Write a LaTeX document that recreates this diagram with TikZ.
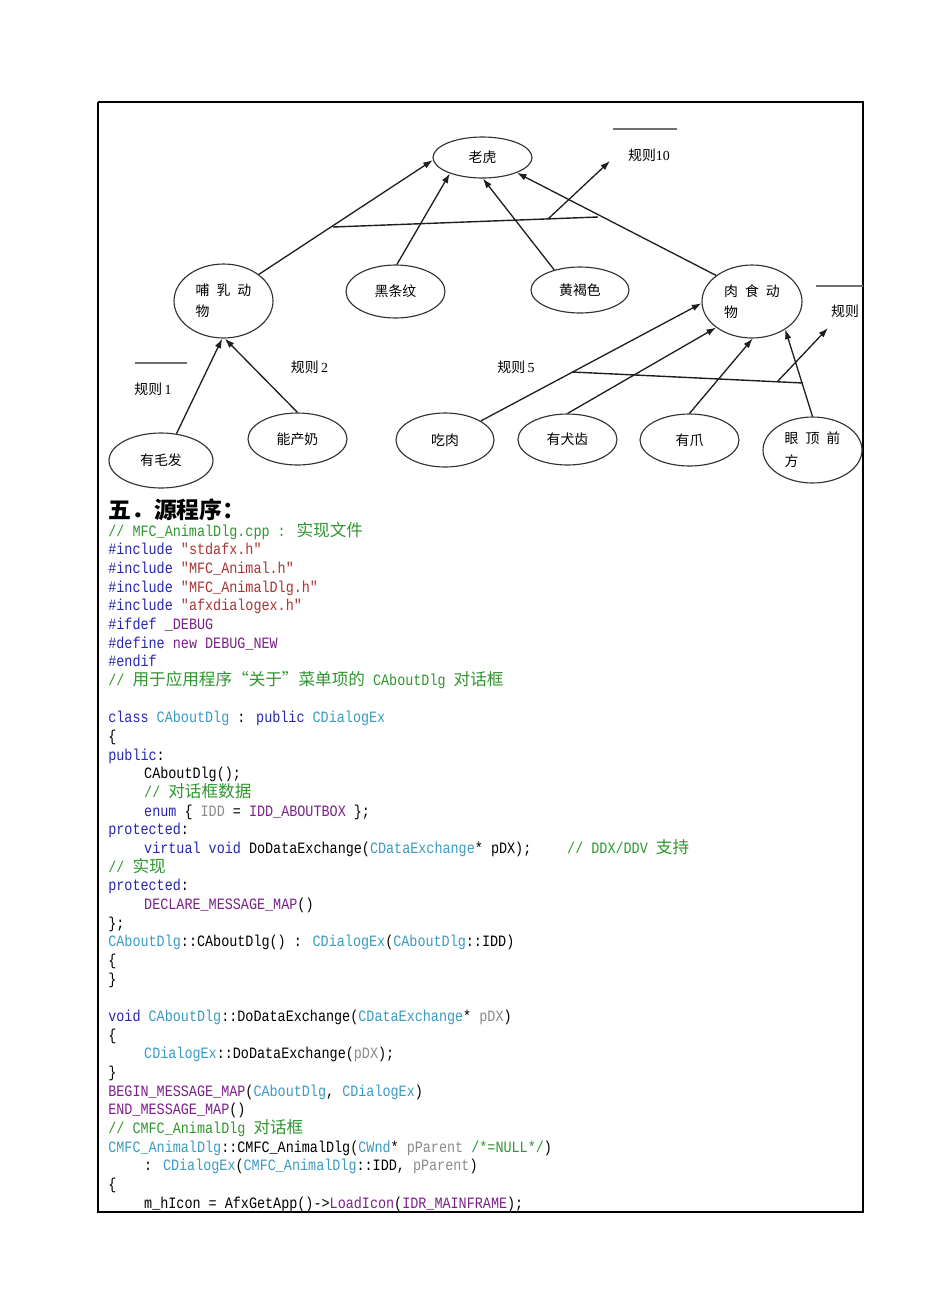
\documentclass[tikz,border=0pt]{standalone}
\usepackage{fontspec}
\usetikzlibrary{shapes.geometric,arrows.meta}
\setmainfont{Liberation Serif}
\newfontfamily\zhfont{Noto Sans CJK SC}
\newfontfamily\codezhfont[Scale=1.05]{Noto Sans CJK SC}
\newfontfamily\codefont[FakeStretch=0.85]{Liberation Mono}
\definecolor{edgeInk}{HTML}{1E1E1E}
\definecolor{ellipseInk}{HTML}{333333}
\definecolor{ruleInk}{HTML}{707070}
\definecolor{codeKeyword}{HTML}{2626B0}
\definecolor{codeType}{HTML}{3B9AC0}
\definecolor{codeString}{HTML}{A83434}
\definecolor{codeComment}{HTML}{2E962E}
\definecolor{codeMacro}{HTML}{7A2088}
\definecolor{codeParam}{HTML}{8A8A8A}
\tikzset{
  state/.style={ellipse, draw=ellipseInk, line width=0.65pt, inner sep=0pt,
    align=left, font=\zhfont\fontsize{7.9}{12}\selectfont},
  infer/.style={draw=edgeInk, line width=0.75pt, -{Latex[length=5.5pt,width=3.8pt]}},
  rulebar/.style={draw=edgeInk, line width=0.8pt},
  ruleover/.style={draw=ruleInk, line width=0.7pt},
  rulelabel/.style={inner sep=0pt, font=\zhfont\fontsize{7.9}{10}\selectfont},
  codeline/.style={anchor=base west, inner sep=0pt,
    font=\codefont\fontsize{9}{11}\selectfont}
}
\newcommand{\zh}[1]{{\codezhfont #1}}
\newcommand{\zgap}{\hspace{0.5em}}
\newcommand{\codeindent}{\hspace*{20.4pt}}
\newcommand{\ckw}[1]{\textcolor{codeKeyword}{#1}}
\newcommand{\cty}[1]{\textcolor{codeType}{#1}}
\newcommand{\cstr}[1]{\textcolor{codeString}{#1}}
\newcommand{\ccmt}[1]{\textcolor{codeComment}{#1}}
\newcommand{\cmac}[1]{\textcolor{codeMacro}{#1}}
\newcommand{\cpar}[1]{\textcolor{codeParam}{#1}}
\newcommand{\codeline}[2]{%
  \node[codeline] (line#1) at (108,{536+18.67*(#1-1)}) {#2};%
}

\begin{document}
\begin{tikzpicture}[x=0.02cm,y=-0.02cm]
\useasboundingbox (0,0) rectangle (950,1316);

% frame round the page block
\draw[line width=0.7pt] (98,102) -- (863,102) -- (863,493);
\draw[line width=1.4pt] (98,102) -- (98,1212) -- (863,1212) -- (863,493);

% inference net: facts and conclusions
\node[state, minimum width=1.98cm, minimum height=0.82cm] (tiger) at (482.5,157.5) {老虎};
\node[state, minimum width=1.98cm, minimum height=1.48cm] (mammal) at (223.5,301) {哺\zgap 乳\zgap 动\\物};
\node[state, minimum width=1.98cm, minimum height=1.06cm] (stripes) at (395.5,291.5) {黑条纹};
\node[state, minimum width=1.96cm, minimum height=0.92cm] (brown) at (580,290) {黄褐色};
\node[state, minimum width=2.00cm, minimum height=1.46cm] (carn) at (752,301.5) {肉\zgap 食\zgap 动\\物};
\node[state, minimum width=2.08cm, minimum height=1.10cm] (hair) at (161,460.5) {有毛发};
\node[state, minimum width=1.98cm, minimum height=1.04cm] (milk) at (297.5,439) {能产奶};
\node[state, minimum width=1.96cm, minimum height=1.08cm] (meat) at (445,440) {吃肉};
\node[state, minimum width=1.98cm, minimum height=1.02cm] (teeth) at (567.5,439.5) {有犬齿};
\node[state, minimum width=1.98cm, minimum height=1.04cm] (claw) at (689.5,440) {有爪};
\node[state, minimum width=1.98cm, minimum height=1.32cm,
  font=\zhfont\fontsize{7.9}{13}\selectfont] (eyes) at (812.5,450) {眼\zgap 顶\zgap 前\\方};

\draw[infer] (mammal.37) -- (tiger.183);
\draw[infer] (stripes.87) -- (tiger.206);
\draw[infer] (brown.142) -- (tiger.271);
\draw[infer] (carn.144) -- (tiger.336);
\draw[infer] (hair.60) -- (mammal.268);
\draw[infer] (milk.90) -- (mammal.272);
\draw[infer] (meat.28) -- (carn.182);
\draw[infer] (teeth.90) -- (carn.216);
\draw[infer] (claw.90) -- (carn.271);
\draw[infer] (eyes.90) -- (carn.320);

% rule bars and their arrows
\coordinate (bar10a) at (333,227);
\coordinate (bar10b) at (598,217);
\coordinate (bar10s) at (548,219);
\coordinate (bar10t) at (610,161);
\draw[rulebar] (bar10a) -- (bar10b);
\draw[infer] (bar10s) -- (bar10t);
\coordinate (bar5a) at (572,372);
\coordinate (bar5b) at (803,383);
\coordinate (bar5s) at (777,382);
\coordinate (bar5t) at (828,328);
\draw[rulebar] (bar5a) -- (bar5b);
\draw[infer] (bar5s) -- (bar5t);

% rule labels
\node[rulelabel] (rule10) at (649,155) {规则\rmfamily 10};
\node[rulelabel] (rule1) at (153,389) {规则\,\rmfamily 1};
\node[rulelabel] (rule2) at (309.5,367) {规则\,\rmfamily 2};
\node[rulelabel] (rule5) at (516,367) {规则\,\rmfamily 5};
\node[rulelabel] (ruleX) at (845,311) {规则};
\draw[ruleover] (613,129) -- (677,129);
\draw[ruleover] (135,363) -- (187,363);
\draw[ruleover] (816,286) -- (863,286);

% section title and source listing
\node[anchor=base west, inner sep=0pt, font=\zhfont\bfseries\fontsize{13}{15}\selectfont]
  (title) at (108,518) {五．源程序：};
\codeline{1}{\ccmt{// MFC\_AnimalDlg.cpp : \zh{实现文件}}}
\codeline{2}{\ckw{\#include} \cstr{"stdafx.h"}}
\codeline{3}{\ckw{\#include} \cstr{"MFC\_Animal.h"}}
\codeline{4}{\ckw{\#include} \cstr{"MFC\_AnimalDlg.h"}}
\codeline{5}{\ckw{\#include} \cstr{"afxdialogex.h"}}
\codeline{6}{\ckw{\#ifdef} \cmac{\_DEBUG}}
\codeline{7}{\ckw{\#define} \cmac{new DEBUG\_NEW}}
\codeline{8}{\ckw{\#endif}}
\codeline{9}{\ccmt{// \zh{用于应用程序“关于”菜单项的} CAboutDlg \zh{对话框}}}
\codeline{11}{\ckw{class} \cty{CAboutDlg} : \ckw{public} \cty{CDialogEx}}
\codeline{12}{\{}
\codeline{13}{\ckw{public}:}
\codeline{14}{\codeindent CAboutDlg();}
\codeline{15}{\codeindent\ccmt{// \zh{对话框数据}}}
\codeline{16}{\codeindent\ckw{enum} \{ \cpar{IDD} = \cmac{IDD\_ABOUTBOX} \};}
\codeline{17}{\ckw{protected}:}
\codeline{18}{\codeindent\ckw{virtual} \ckw{void} DoDataExchange(\cty{CDataExchange}* pDX);\hspace*{20.4pt}\ccmt{// DDX/DDV \zh{支持}}}
\codeline{19}{\ccmt{// \zh{实现}}}
\codeline{20}{\ckw{protected}:}
\codeline{21}{\codeindent\cmac{DECLARE\_MESSAGE\_MAP}()}
\codeline{22}{\};}
\codeline{23}{\cty{CAboutDlg}::CAboutDlg() : \cty{CDialogEx}(\cty{CAboutDlg}::IDD)}
\codeline{24}{\{}
\codeline{25}{\}}
\codeline{27}{\ckw{void} \cty{CAboutDlg}::DoDataExchange(\cty{CDataExchange}* \cpar{pDX})}
\codeline{28}{\{}
\codeline{29}{\codeindent\cty{CDialogEx}::DoDataExchange(\cpar{pDX});}
\codeline{30}{\}}
\codeline{31}{\cmac{BEGIN\_MESSAGE\_MAP}(\cty{CAboutDlg}, \cty{CDialogEx})}
\codeline{32}{\cmac{END\_MESSAGE\_MAP}()}
\codeline{33}{\ccmt{// CMFC\_AnimalDlg \zh{对话框}}}
\codeline{34}{\cty{CMFC\_AnimalDlg}::CMFC\_AnimalDlg(\cty{CWnd}* \cpar{pParent} \ccmt{/*=NULL*/})}
\codeline{35}{\codeindent: \cty{CDialogEx}(\cty{CMFC\_AnimalDlg}::IDD, \cpar{pParent})}
\codeline{36}{\{}
\codeline{37}{\codeindent m\_hIcon = AfxGetApp()->\cmac{LoadIcon}(\cmac{IDR\_MAINFRAME});}

\end{tikzpicture}
\end{document}
